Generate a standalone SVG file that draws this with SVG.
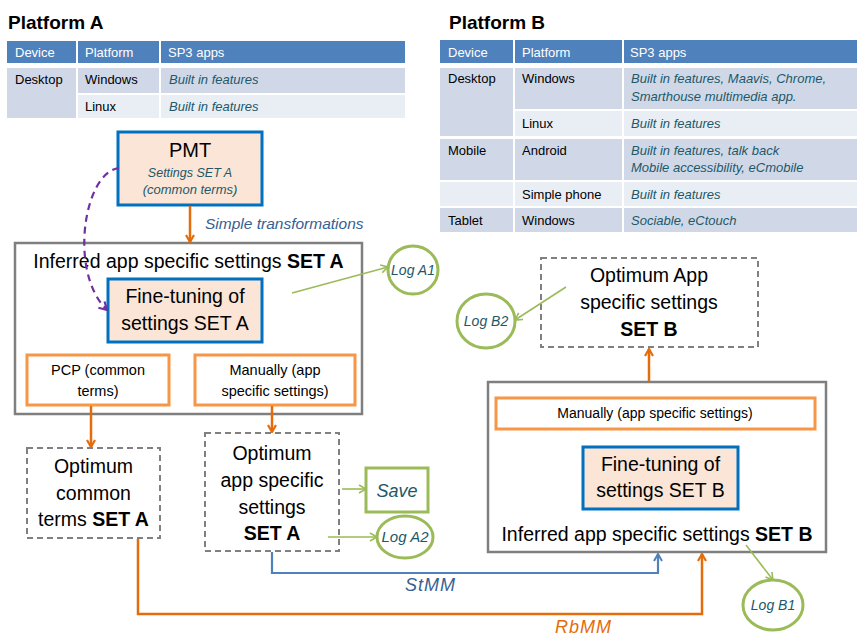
<svg xmlns="http://www.w3.org/2000/svg" width="857" height="638" viewBox="0 0 857 638">
<style>
text{font-family:"Liberation Sans",Arial,sans-serif;fill:#000}
.ttl{font-size:19px;font-weight:bold}
.th{font-size:13px;fill:#fff}
.td{font-size:13px}
.ti{font-size:13px;font-style:italic;fill:#215868}
.hd{fill:#4F81BD}
.dk{fill:#D0D8E8}
.lt{fill:#E9EDF4}
.big{font-size:19.5px}
.mid{font-size:14.5px}
.c{text-anchor:middle}
.b{font-weight:bold}
.teal{fill:#215868;font-style:italic}
.box-gray{fill:#fff;stroke:#7F7F7F;stroke-width:2.5}
.box-blue{fill:#FBE5D6;stroke:#0070C0;stroke-width:3}
.box-orange{fill:#fff;stroke:#F79646;stroke-width:3}
.box-dash{fill:#fff;stroke:#808080;stroke-width:2;stroke-dasharray:6 4}
.green{fill:#fff;stroke:#9BBB59;stroke-width:3}
.or{fill:none;stroke:#E46C0A;stroke-width:2.5}
.bl{fill:none;stroke:#4F81BD;stroke-width:2.2}
.gr{fill:none;stroke:#9BBB59;stroke-width:1.6}
.pu{fill:none;stroke:#7030A0;stroke-width:2.2;stroke-dasharray:7 5}
</style>
<defs>
<marker id="mo" viewBox="0 0 10 10" refX="9" refY="5" markerWidth="10" markerHeight="10" markerUnits="userSpaceOnUse" orient="auto"><path d="M2,1 L9,5 L2,9" fill="none" stroke="#E46C0A" stroke-width="2.2"/></marker>
<marker id="mb" viewBox="0 0 10 10" refX="9" refY="5" markerWidth="10" markerHeight="10" markerUnits="userSpaceOnUse" orient="auto"><path d="M2,1 L9,5 L2,9" fill="none" stroke="#4F81BD" stroke-width="2"/></marker>
<marker id="mg" viewBox="0 0 10 10" refX="9" refY="5" markerWidth="10" markerHeight="10" markerUnits="userSpaceOnUse" orient="auto"><path d="M2,1 L9,5 L2,9" fill="none" stroke="#9BBB59" stroke-width="1.6"/></marker>
<marker id="mp" viewBox="0 0 10 10" refX="9" refY="5" markerWidth="11" markerHeight="11" markerUnits="userSpaceOnUse" orient="auto"><path d="M2,1 L9,5 L2,9" fill="none" stroke="#7030A0" stroke-width="2"/></marker>
</defs>
<rect width="857" height="638" fill="#fff"/>

<g id="tableA">
<text class="ttl" x="8" y="29">Platform A</text>
<rect class="hd" x="7" y="41" width="69" height="22"/>
<rect class="hd" x="78" y="41" width="81" height="22"/>
<rect class="hd" x="161" y="41" width="244" height="22"/>
<rect class="dk" x="7" y="68" width="69" height="50"/>
<rect class="dk" x="78" y="68" width="81" height="25"/>
<rect class="dk" x="161" y="68" width="244" height="25"/>
<rect class="lt" x="78" y="95" width="81" height="23"/>
<rect class="lt" x="161" y="95" width="244" height="23"/>
<text class="th" x="15" y="57">Device</text>
<text class="th" x="85" y="57">Platform</text>
<text class="th" x="168" y="57">SP3 apps</text>
<text class="td" x="15" y="84">Desktop</text>
<text class="td" x="85" y="84">Windows</text>
<text class="ti" x="169" y="84">Built in features</text>
<text class="td" x="85" y="111">Linux</text>
<text class="ti" x="169" y="111">Built in features</text>
</g>

<g id="tableB">
<text class="ttl" x="449" y="29">Platform B</text>
<rect class="hd" x="440" y="40" width="73" height="23"/>
<rect class="hd" x="515" y="40" width="107" height="23"/>
<rect class="hd" x="624" y="40" width="233" height="23"/>
<rect class="dk" x="440" y="68" width="73" height="68"/>
<rect class="dk" x="515" y="68" width="107" height="41"/>
<rect class="dk" x="624" y="68" width="233" height="41"/>
<rect class="lt" x="515" y="111" width="107" height="25"/>
<rect class="lt" x="624" y="111" width="233" height="25"/>
<rect class="dk" x="440" y="139" width="73" height="41"/>
<rect class="dk" x="515" y="139" width="107" height="41"/>
<rect class="dk" x="624" y="139" width="233" height="41"/>
<rect class="lt" x="440" y="182" width="73" height="24"/>
<rect class="lt" x="515" y="182" width="107" height="24"/>
<rect class="lt" x="624" y="182" width="233" height="24"/>
<rect class="dk" x="440" y="208" width="73" height="24"/>
<rect class="dk" x="515" y="208" width="107" height="24"/>
<rect class="dk" x="624" y="208" width="233" height="24"/>
<text class="th" x="448" y="57">Device</text>
<text class="th" x="522" y="57">Platform</text>
<text class="th" x="630" y="57">SP3 apps</text>
<text class="td" x="448" y="83">Desktop</text>
<text class="td" x="522" y="83">Windows</text>
<text class="ti" x="631" y="83">Built in features, Maavis, Chrome,</text>
<text class="ti" x="631" y="101">Smarthouse multimedia app.</text>
<text class="td" x="522" y="128">Linux</text>
<text class="ti" x="631" y="128">Built in features</text>
<text class="td" x="448" y="155">Mobile</text>
<text class="td" x="522" y="155">Android</text>
<text class="ti" x="631" y="155">Built in features, talk back</text>
<text class="ti" x="631" y="172">Mobile accessibility, eCmobile</text>
<text class="td" x="522" y="199">Simple phone</text>
<text class="ti" x="631" y="199">Built in features</text>
<text class="td" x="448" y="225">Tablet</text>
<text class="td" x="522" y="225">Windows</text>
<text class="ti" x="631" y="225">Sociable, eCtouch</text>
</g>

<g id="pmt">
<rect class="box-blue" x="118" y="132" width="144" height="73"/>
<text class="big c" x="190" y="157" style="font-size:20px">PMT</text>
<text class="teal c" x="190" y="177" style="font-size:12.5px">Settings SET A</text>
<text class="teal c" x="190" y="194" style="font-size:13px">(common terms)</text>
</g>

<g id="inferredA">
<rect class="box-gray" x="15" y="243" width="347" height="171"/>
<text class="big c" x="188.5" y="268">Inferred app specific settings <tspan class="b">SET A</tspan></text>
</g>
<g id="finetuneA">
<rect class="box-blue" x="108" y="279" width="154" height="63"/>
<text class="big c" x="185" y="303">Fine-tuning of</text>
<text class="big c" x="185" y="330">settings SET A</text>
</g>
<g id="pcp">
<rect class="box-orange" x="27" y="355" width="142" height="50"/>
<text class="mid c" x="98" y="375">PCP (common</text>
<text class="mid c" x="98" y="396">terms)</text>
</g>
<g id="manualA">
<rect class="box-orange" x="195" y="355" width="160" height="50"/>
<text class="mid c" x="275" y="375">Manually (app</text>
<text class="mid c" x="275" y="396">specific settings)</text>
</g>

<g id="optCommonA">
<rect class="box-dash" x="27" y="448" width="133" height="90"/>
<text class="big c" x="93.5" y="473">Optimum</text>
<text class="big c" x="93.5" y="500">common</text>
<text class="big c" x="93.5" y="526">terms <tspan class="b">SET A</tspan></text>
</g>
<g id="optAppA">
<rect class="box-dash" x="205" y="433" width="134" height="118"/>
<text class="big c" x="272" y="460">Optimum</text>
<text class="big c" x="272" y="487">app specific</text>
<text class="big c" x="272" y="514">settings</text>
<text class="big c b" x="272" y="540">SET A</text>
</g>

<g id="save">
<rect class="green" x="366" y="468" width="62" height="44"/>
<text class="teal c" x="397" y="497" style="font-size:18px">Save</text>
</g>
<g id="logA1">
<ellipse class="green" cx="413" cy="270" rx="25" ry="24"/>
<text class="teal c" x="413" y="275" style="font-size:14px">Log A1</text>
</g>
<g id="logA2">
<ellipse class="green" cx="405" cy="537" rx="28" ry="21"/>
<text class="teal c" x="405" y="542" style="font-size:15px">Log A2</text>
</g>

<g id="optAppB">
<rect class="box-dash" x="541" y="258" width="217" height="89"/>
<text class="big c" x="649" y="282">Optimum App</text>
<text class="big c" x="649" y="309">specific settings</text>
<text class="big c b" x="649" y="336">SET B</text>
</g>
<g id="logB2">
<ellipse class="green" cx="486" cy="321" rx="29" ry="27"/>
<text class="teal c" x="486" y="326" style="font-size:14px">Log B2</text>
</g>
<g id="inferredB">
<rect class="box-gray" x="488" y="382" width="338" height="170"/>
<text class="big c" x="657" y="541">Inferred app specific settings <tspan class="b">SET B</tspan></text>
</g>
<g id="manualB">
<rect class="box-orange" x="496" y="398" width="319" height="31"/>
<text class="c" x="655" y="418" style="font-size:14px">Manually (app specific settings)</text>
</g>
<g id="finetuneB">
<rect class="box-blue" x="583" y="447" width="155" height="62"/>
<text class="big c" x="660.5" y="471">Fine-tuning of</text>
<text class="big c" x="660.5" y="497">settings SET B</text>
</g>
<g id="logB1">
<ellipse class="green" cx="773" cy="605" rx="30" ry="25"/>
<text class="teal c" x="773" y="610" style="font-size:14px">Log B1</text>
</g>

<g id="connectors">
<line class="or" x1="190" y1="206" x2="190" y2="242" marker-end="url(#mo)"/>
<text x="205" y="229" style="font-size:15.5px;font-style:italic;fill:#376092">Simple transformations</text>
<path class="pu" d="M119,168 C84,172 68,272 107,310" marker-end="url(#mp)"/>
<line class="gr" x1="292" y1="293" x2="388" y2="267" marker-end="url(#mg)"/>
<line class="or" x1="91" y1="406" x2="91" y2="447" marker-end="url(#mo)"/>
<line class="or" x1="272" y1="406" x2="272" y2="432" marker-end="url(#mo)"/>
<line class="gr" x1="342" y1="489" x2="366" y2="489" marker-end="url(#mg)"/>
<line class="gr" x1="328" y1="537" x2="377" y2="537" marker-end="url(#mg)"/>
<path class="bl" d="M272,552 V573 H658 V554" marker-end="url(#mb)"/>
<text x="405" y="591" style="font-size:18px;font-style:italic;fill:#376092;letter-spacing:1px">StMM</text>
<path class="or" d="M138,539 V614 H702 V554" marker-end="url(#mo)"/>
<text x="555" y="633" style="font-size:18px;font-style:italic;fill:#E46C0A;letter-spacing:1px">RbMM</text>
<line class="or" x1="649" y1="381" x2="649" y2="349" marker-end="url(#mo)"/>
<line class="gr" x1="566" y1="287" x2="515" y2="320" marker-end="url(#mg)"/>
<line class="gr" x1="746" y1="545" x2="773" y2="580" marker-end="url(#mg)"/>
</g>
</svg>
